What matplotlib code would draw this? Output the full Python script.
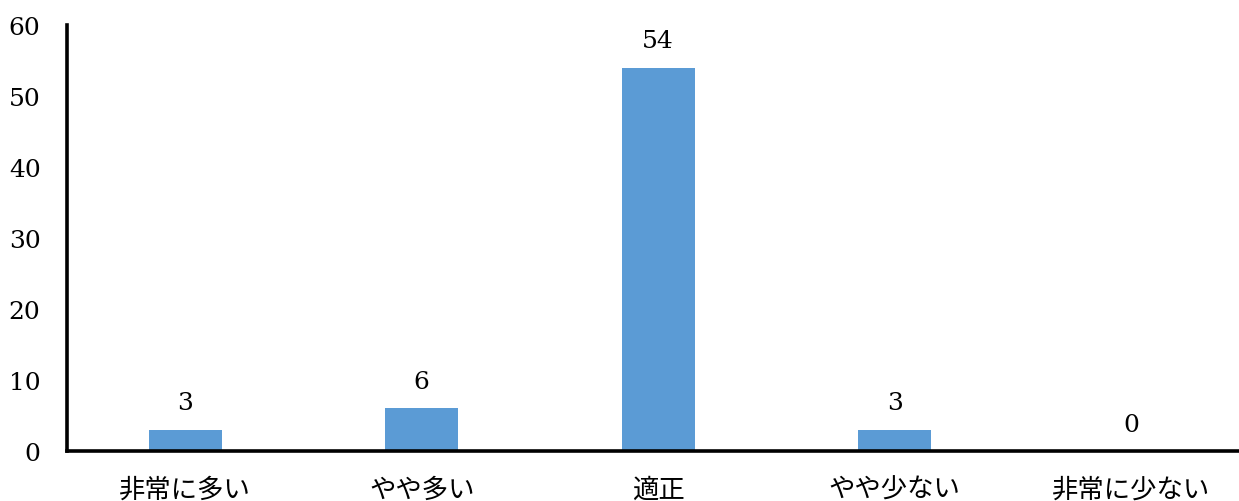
import numpy as np
import matplotlib
matplotlib.use("Agg")
from matplotlib import pyplot as plt

categories = ["非常に多い", "やや多い", "適正", "やや少ない", "非常に少ない"]
counts = [3, 6, 54, 3, 0]

num_font = ["DejaVu Serif"]
jp_font = ["Noto Sans CJK JP", "DejaVu Sans"]

fig = plt.figure(figsize=(12.39, 5.02), dpi=100)
ax = fig.add_axes([0.054, 0.0996, 0.9545, 0.8484])

x = np.arange(len(categories))
bars = ax.bar(x, counts, width=0.31, color="#5B9BD5", zorder=2)

for xi, v in zip(x, counts):
    ax.annotate(str(v), (xi, v), xytext=(0, 11), textcoords="offset points",
                ha="center", va="bottom", fontsize=18, family=num_font)

ax.set_xlim(-0.5, len(categories) - 0.5)
ax.set_ylim(0, 60)
ax.set_yticks(range(0, 61, 10))
ax.set_yticklabels([str(t) for t in range(0, 61, 10)], family=num_font, fontsize=18)
ax.set_xticks(x)
ax.set_xticklabels(categories, family=jp_font, fontsize=19)
ax.tick_params(axis="y", length=0, pad=19)
ax.tick_params(axis="x", length=0, pad=18)

for side in ["top", "right"]:
    ax.spines[side].set_visible(False)
for side in ["left", "bottom"]:
    ax.spines[side].set_linewidth(2.6)
    ax.spines[side].set_color("black")

fig.savefig("out.png", dpi=100)
